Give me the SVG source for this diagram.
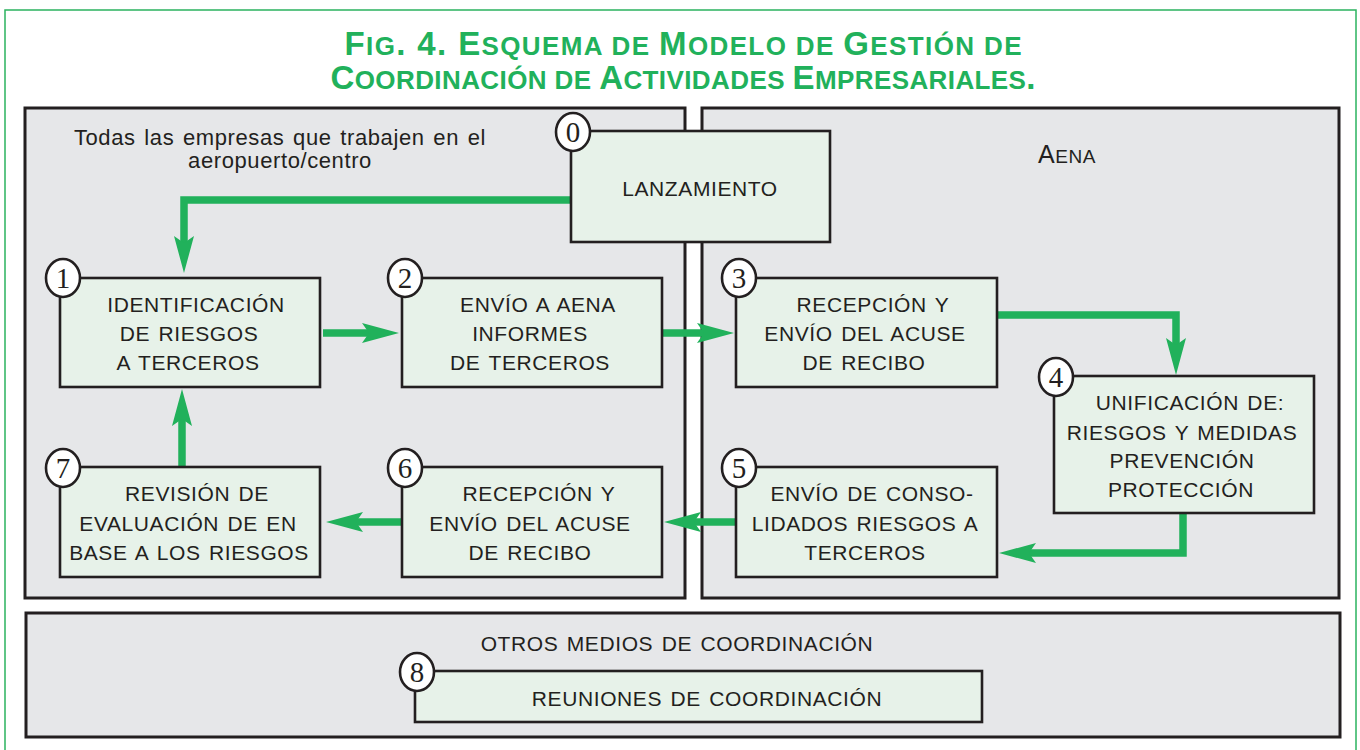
<svg xmlns="http://www.w3.org/2000/svg" width="1360" height="750" viewBox="0 0 1360 750">
<style>
.panel{fill:#e6e7e9;stroke:#231f20;stroke-width:3}
.node{fill:#e7f2e9;stroke:#231f20;stroke-width:2.6}
.badge{fill:#ffffff;stroke:#231f20;stroke-width:2.6}
.num{font-family:"Liberation Serif",serif;font-size:29px;fill:#231f20;text-anchor:middle}
.t{font-family:"Liberation Sans",Arial,sans-serif;font-size:21px;fill:#231f20;text-anchor:middle;letter-spacing:0.6px;word-spacing:2px}
.title{font-family:"Liberation Sans",Arial,sans-serif;font-weight:bold;fill:#21b15b;text-anchor:middle}
.b{font-size:33px}
.s{font-size:26px}
.conn{fill:none;stroke:#21b15b;stroke-width:7.5;stroke-linejoin:miter}
</style>
<defs>
<marker id="ah" markerUnits="userSpaceOnUse" viewBox="0 -12 40 24" markerWidth="40" markerHeight="24" refX="7" refY="0" orient="auto">
<path d="M0,-10 L37,0 L0,10 L7,0 Z" fill="#21b15b"/>
</marker>
</defs>
<rect x="5" y="10" width="1351" height="760" fill="none" stroke="#2bb35f" stroke-width="1.5"/>
<g id="title">
<text class="title" x="683" y="55" textLength="677" lengthAdjust="spacing"><tspan class="b">F</tspan><tspan class="s">IG</tspan><tspan class="b">. 4. E</tspan><tspan class="s">SQUEMA DE </tspan><tspan class="b">M</tspan><tspan class="s">ODELO DE </tspan><tspan class="b">G</tspan><tspan class="s">ESTIÓN DE</tspan></text>
<text class="title" x="683" y="89" textLength="705" lengthAdjust="spacing"><tspan class="b">C</tspan><tspan class="s">OORDINACIÓN DE </tspan><tspan class="b">A</tspan><tspan class="s">CTIVIDADES </tspan><tspan class="b">E</tspan><tspan class="s">MPRESARIALES</tspan><tspan class="b">.</tspan></text>
</g>
<g id="panel-empresas">
<rect class="panel" x="25" y="108" width="660" height="490"/>
<text class="t" x="280" y="145" style="font-size:22px">Todas las empresas que trabajen en el</text>
<text class="t" x="280" y="168" style="font-size:22px">aeropuerto/centro</text>
</g>
<g id="panel-aena">
<rect class="panel" x="702" y="108" width="637" height="490"/>
<text class="t" x="1067" y="163"><tspan font-size="25px">A</tspan><tspan font-size="19px">ENA</tspan></text>
</g>
<g id="panel-otros">
<rect class="panel" x="26" y="613" width="1314" height="124"/>
<text class="t" x="677" y="651">OTROS MEDIOS DE COORDINACIÓN</text>
</g>
<g id="connectors">
<path class="conn" d="M571,200 H184 V243" marker-end="url(#ah)"/>
<path class="conn" d="M323,333 H369" marker-end="url(#ah)"/>
<path class="conn" d="M663,333 H704" marker-end="url(#ah)"/>
<path class="conn" d="M997,315 H1176 V345" marker-end="url(#ah)"/>
<path class="conn" d="M1183,513 V553 H1029" marker-end="url(#ah)"/>
<path class="conn" d="M736,522 H694" marker-end="url(#ah)"/>
<path class="conn" d="M402,522 H356" marker-end="url(#ah)"/>
<path class="conn" d="M182,467 V419" marker-end="url(#ah)"/>
</g>
<g id="node0">
<rect class="node" x="571" y="131" width="259" height="111"/>
<text class="t" x="700" y="196">LANZAMIENTO</text>
<ellipse class="badge" cx="573" cy="132" rx="17" ry="19"/>
<text class="num" x="573" y="142">0</text>
</g>
<g id="node1">
<rect class="node" x="60" y="278" width="260" height="109"/>
<text class="t" x="196" y="312">IDENTIFICACIÓN</text>
<text class="t" x="189" y="341">DE RIESGOS</text>
<text class="t" x="188" y="370">A TERCEROS</text>
<ellipse class="badge" cx="63" cy="278" rx="17" ry="19"/>
<text class="num" x="63" y="288">1</text>
</g>
<g id="node2">
<rect class="node" x="402" y="278" width="260" height="109"/>
<text class="t" x="538" y="312">ENVÍO A AENA</text>
<text class="t" x="530" y="341">INFORMES</text>
<text class="t" x="530" y="370">DE TERCEROS</text>
<ellipse class="badge" cx="405" cy="278" rx="17" ry="19"/>
<text class="num" x="405" y="288">2</text>
</g>
<g id="node3">
<rect class="node" x="736" y="278" width="261" height="109"/>
<text class="t" x="873" y="312">RECEPCIÓN Y</text>
<text class="t" x="865" y="341">ENVÍO DEL ACUSE</text>
<text class="t" x="864" y="370">DE RECIBO</text>
<ellipse class="badge" cx="739" cy="278" rx="17" ry="19"/>
<text class="num" x="739" y="288">3</text>
</g>
<g id="node4">
<rect class="node" x="1054" y="376" width="260" height="137"/>
<text class="t" x="1190" y="410">UNIFICACIÓN DE:</text>
<text class="t" x="1182" y="440">RIESGOS Y MEDIDAS</text>
<text class="t" x="1182" y="468">PREVENCIÓN</text>
<text class="t" x="1181" y="497">PROTECCIÓN</text>
<ellipse class="badge" cx="1056" cy="377" rx="17" ry="19"/>
<text class="num" x="1056" y="387">4</text>
</g>
<g id="node5">
<rect class="node" x="736" y="467" width="261" height="110"/>
<text class="t" x="872" y="501">ENVÍO DE CONSO-</text>
<text class="t" x="865" y="531">LIDADOS RIESGOS A</text>
<text class="t" x="865" y="560">TERCEROS</text>
<ellipse class="badge" cx="739" cy="468" rx="17" ry="19"/>
<text class="num" x="739" y="478">5</text>
</g>
<g id="node6">
<rect class="node" x="402" y="467" width="260" height="110"/>
<text class="t" x="539" y="501">RECEPCIÓN Y</text>
<text class="t" x="530" y="531">ENVÍO DEL ACUSE</text>
<text class="t" x="530" y="560">DE RECIBO</text>
<ellipse class="badge" cx="405" cy="468" rx="17" ry="19"/>
<text class="num" x="405" y="478">6</text>
</g>
<g id="node7">
<rect class="node" x="60" y="467" width="260" height="110"/>
<text class="t" x="197" y="501">REVISIÓN DE</text>
<text class="t" x="188" y="531">EVALUACIÓN DE EN</text>
<text class="t" x="189" y="560">BASE A LOS RIESGOS</text>
<ellipse class="badge" cx="63" cy="468" rx="17" ry="19"/>
<text class="num" x="63" y="478">7</text>
</g>
<g id="node8">
<rect class="node" x="415" y="671" width="567" height="51"/>
<text class="t" x="707" y="706">REUNIONES DE COORDINACIÓN</text>
<ellipse class="badge" cx="417" cy="672" rx="17" ry="19"/>
<text class="num" x="417" y="682">8</text>
</g>
</svg>
